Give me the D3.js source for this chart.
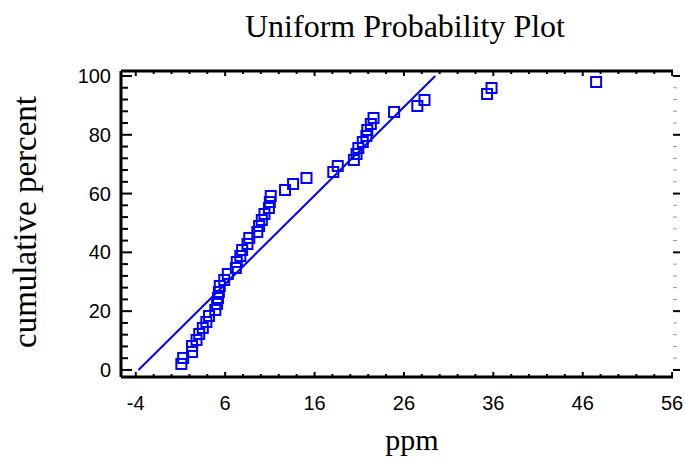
<!DOCTYPE html>
<html lang="en">
  <head>
    <meta charset="UTF-8" />
    <title>Uniform Probability Plot</title>
    <script src="https://d3js.org/d3.v7.min.js"></script>
    <style>
      body {
        margin: 0;
        background: #ffffff;
      }
      svg {
        display: block;
      }
      .tick-label {
        font-family: "Liberation Sans", Arial, sans-serif;
        font-size: 20px;
        fill: #000;
      }
      .title {
        font-family: "Liberation Serif", "Times New Roman", serif;
        fill: #000;
      }
    </style>
  </head>
  <body>
    <svg id="chart" width="685" height="464"></svg>

    <script>
      // sorted ppm observations
      const ppm = [
        1.1, 1.3, 2.3, 2.3, 2.8, 3.1, 3.5, 3.9, 4.2, 4.9,
        5.1, 5.2, 5.3, 5.4, 5.9, 6.3, 7.2, 7.3, 7.7, 7.9,
        8.5, 8.7, 9.6, 9.8, 10.1, 10.4, 10.9, 11.0, 11.1, 12.7,
        13.6, 15.1, 18.1, 18.6, 20.4, 20.7, 20.9, 21.4, 21.8, 21.9,
        22.3, 22.6, 24.9, 27.5, 28.3, 35.3, 35.8, 47.5
      ];
      // fitted uniform distribution (lower, upper)
      const fitEnds = [-3.7, 29.5];
      const xTicks = [-4, 6, 16, 26, 36, 46, 56];
      const yTicks = [0, 20, 40, 60, 80, 100];

      const svg = d3.select("#chart");
      const pLeft = 121, pRight = 673, pTop = 71, pBottom = 377;

      const x = d3.scaleLinear().domain([-5.65, 56.1]).range([pLeft, pRight]);
      const y = d3.scaleLinear().domain([-2.4, 101.7]).range([pBottom, pTop]);

      const n = ppm.length;
      const pts = ppm.map((v, i) => ({ x: v, p: (100 * (i + 1)) / (n + 1) }));

      // frame lines (left, bottom, top)
      svg.append("line").attr("x1", pLeft).attr("x2", pLeft).attr("y1", pTop).attr("y2", pBottom)
        .attr("stroke", "#000").attr("stroke-width", 3);
      svg.append("line").attr("x1", pLeft).attr("x2", pRight).attr("y1", pBottom).attr("y2", pBottom)
        .attr("stroke", "#000").attr("stroke-width", 3);
      svg.append("line").attr("x1", pLeft).attr("x2", pRight).attr("y1", pTop).attr("y2", pTop)
        .attr("stroke", "#000").attr("stroke-width", 3);

      // x ticks: majors every 10, minors every 2
      const xMinor = d3.range(-4, 57, 2);
      xMinor.forEach((t) => {
        const major = xTicks.includes(t);
        const len = major ? 5 : 3;
        svg.append("line").attr("x1", x(t)).attr("x2", x(t))
          .attr("y1", pBottom).attr("y2", pBottom - len)
          .attr("stroke", "#000").attr("stroke-width", 2);
        svg.append("line").attr("x1", x(t)).attr("x2", x(t))
          .attr("y1", pTop).attr("y2", pTop + len)
          .attr("stroke", "#000").attr("stroke-width", 2);
      });

      // y ticks: majors every 20, minors every 4
      const yMinor = d3.range(0, 101, 4);
      yMinor.forEach((t) => {
        const major = yTicks.includes(t);
        svg.append("line").attr("x1", pLeft).attr("x2", pLeft + (major ? 11 : 7))
          .attr("y1", y(t)).attr("y2", y(t))
          .attr("stroke", "#000").attr("stroke-width", 2);
        svg.append("line").attr("x1", pRight).attr("x2", pRight + (major ? 7 : 4))
          .attr("y1", y(t)).attr("y2", y(t))
          .attr("stroke", major ? "#000" : "#999").attr("stroke-width", major ? 2 : 1);
      });

      svg.selectAll(".xl").data(xTicks).join("text")
        .attr("class", "tick-label")
        .attr("x", (d) => x(d)).attr("y", 410)
        .attr("text-anchor", "middle")
        .text((d) => d);

      svg.selectAll(".yl").data(yTicks).join("text")
        .attr("class", "tick-label")
        .attr("x", 111).attr("y", (d) => y(d) + 7)
        .attr("text-anchor", "end")
        .text((d) => d);

      // fitted line
      svg.append("line")
        .attr("x1", x(fitEnds[0])).attr("y1", y(0))
        .attr("x2", x(fitEnds[1])).attr("y2", y(100))
        .attr("stroke", "#0000ff").attr("stroke-width", 2);

      // points
      const s = 10;
      svg.selectAll(".pt").data(pts).join("rect")
        .attr("x", (d) => x(d.x) - s / 2).attr("y", (d) => y(d.p) - s / 2)
        .attr("width", s).attr("height", s)
        .attr("fill", "none").attr("stroke", "#0000ff").attr("stroke-width", 2);

      svg.append("text").attr("class", "title")
        .attr("x", 405).attr("y", 37).attr("text-anchor", "middle")
        .style("font-size", "32px").text("Uniform Probability Plot");

      svg.append("text").attr("class", "title")
        .attr("x", 412).attr("y", 450).attr("text-anchor", "middle")
        .style("font-size", "30px").text("ppm");

      svg.append("text").attr("class", "title")
        .attr("transform", "translate(36,222) rotate(-90)")
        .attr("text-anchor", "middle")
        .style("font-size", "33px").text("cumulative percent");
    </script>
  </body>
</html>
